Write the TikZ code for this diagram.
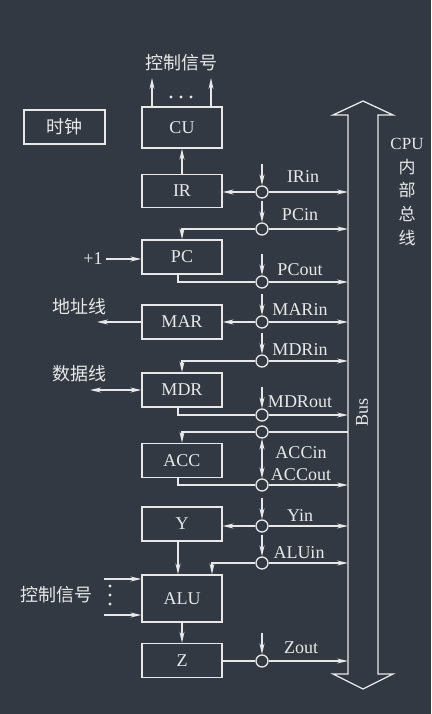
\documentclass[tikz,border=0pt]{standalone}
\usepackage{fontspec}
\setmainfont{Liberation Serif}
\newfontfamily\cjk{Noto Sans CJK SC}
\usetikzlibrary{calc,arrows.meta,positioning}

\definecolor{bgcol}{RGB}{50,57,66}
\definecolor{ink}{RGB}{232,232,232}

\tikzset{
  wire/.style={draw=ink, line width=1.3pt},
  arr/.style={wire, -{Stealth[open,length=11pt,width=5pt]}},
  arrtwo/.style={wire, {Stealth[open,length=11pt,width=5pt]}-{Stealth[open,length=11pt,width=5pt]}},
  reg/.style={draw=ink, line width=1.3pt, minimum width=80pt, minimum height=34pt,
    inner sep=0pt, text=ink, font=\fontsize{18}{18}\selectfont},
  gate/.style={circle, draw=ink, line width=1.3pt, minimum size=12pt, inner sep=0pt, fill=bgcol},
  lbl/.style={text=ink, inner sep=0pt, font=\fontsize{18}{18}\selectfont},
  zh/.style={text=ink, inner sep=0pt, font=\cjk\fontsize{18}{18}\selectfont},
}

\begin{document}
\begin{tikzpicture}[x=1pt,y=-1pt]
  \fill[bgcol] (0,0) rectangle (431,714);
  \useasboundingbox (0,0) rectangle (431,714);

  % registers
  \node[reg, minimum height=41pt] (CU) at (182,127.5) {CU};
  \node[reg, minimum height=33pt] (IR) at (182,191) {IR};
  \node[reg] (PC) at (182,257) {PC};
  \node[reg] (MAR) at (182,322) {MAR};
  \node[reg] (MDR) at (182,390) {MDR};
  \node[reg] (ACC) at (182,460.5) {ACC};
  \node[reg] (Y) at (182,524) {Y};
  \node[reg, minimum height=47pt] (ALU) at (182,598.5) {ALU};
  \node[reg] (Z) at (182,660.5) {Z};
  \node[reg, minimum width=81pt, font=\cjk\fontsize{18}{18}\selectfont] (clk) at (64.5,127) {时钟};

  % bus
  \draw[wire, line join=miter] (348,674) -- (348,115) -- (333,115) -- (363,101) -- (393,115)
    -- (378,115) -- (378,674) -- (393,674) -- (363,689) -- (333,674) -- cycle;
  \coordinate (busL) at (348,0);
  \node[lbl, rotate=90] (busTxt) at (362,412) {Bus};
  \node[lbl, align=center, font=\fontsize{17}{23.75}\selectfont] (cpuTxt) at (407,192)
    {CPU\\{\cjk 内}\\{\cjk 部}\\{\cjk 总}\\{\cjk 线}};

  % gates
  \foreach \n/\y in {IR/192, PCin/229, PCout/282, MAR/322, MDRin/361, MDRout/415,
                     ACCin/432, ACCout/485, Y/526, ALUin/563, Z/661} {
    \node[gate] (g\n) at (262,\y) {};
  }
  \foreach \n in {IR,PCin,PCout,MAR,MDRin,MDRout,Y,ALUin,Z} {
    \draw[arr] ($(g\n.north)+(0,-21)$) -- (g\n.north);
  }
  \draw[arrtwo] (gACCin.south) -- (gACCout.north);
  \foreach \n in {IR,PCin,PCout,MAR,MDRin,MDRout,ACCout,Y,ALUin,Z} {
    \draw[arr] (g\n.east) -- (g\n -| busL);
  }
  \draw[wire] (gACCin.east) -- (gACCin -| busL);

  % gate labels
  \foreach \n/\t/\x/\y in {IR/IRin/303/177, PCin/PCin/300/215, PCout/PCout/300/270,
      MAR/MARin/300/310, MDRin/MDRin/300/350, MDRout/MDRout/300/402,
      ACCin/ACCin/301/453, ACCout/ACCout/301/475, Y/Yin/300/516,
      ALUin/ALUin/299/553, Z/Zout/301/648} {
    \node[lbl] (l\n) at (\x,\y) {\t};
  }

  % register side of the gates
  \draw[arr] (gIR.west) -- (IR.east |- gIR);
  \draw[arr] (gMAR.west) -- (MAR.east);
  \draw[arr] (gY.west) -- (Y.east |- gY);
  \draw[wire] (Z.east |- gZ) -- (gZ.west);
  \draw[arr] (gPCin.west) -| (PC.north);
  \draw[arr] (gMDRin.west) -| (MDR.north);
  \draw[arr] (gACCin.west) -| (ACC.north);
  \draw[arr] (gALUin.west) -| ([xshift=30pt]ALU.north);
  \draw[wire] ([xshift=-4pt]PC.south) |- (gPCout.west);
  \draw[wire] ([xshift=-4pt]MDR.south) |- (gMDRout.west);
  \draw[wire] ([xshift=-4pt]ACC.south) |- (gACCout.west);

  % between registers
  \draw[arr] (IR.north) -- (CU.south);
  \draw[arr] ([xshift=-4pt]Y.south) -- ([xshift=-4pt]ALU.north);
  \draw[arr] (ALU.south) -- (Z.north);

  % CU outputs
  \coordinate (cuL) at (152,78);
  \coordinate (cuR) at (211,78);
  \draw[arr] (CU.north -| cuL) -- (cuL);
  \draw[arr] (CU.north -| cuR) -- (cuR);
  \foreach \x in {171,181,191}
    \fill[ink] (\x,97) circle (1.6pt);
  \node[zh] (cuSig) at (181,63) {控制信号};

  % left side
  \node[lbl] (inc) at (93,259) {+1};
  \draw[arr] ([xshift=3pt]inc.east) -- (PC.west |- inc);
  \node[zh] (addr) at (79.5,307) {地址线};
  \coordinate (addrEnd) at (97,322);
  \draw[arr] (MAR.west) -- (addrEnd);
  \node[zh] (data) at (79.5,374) {数据线};
  \coordinate (dataEnd) at (90,390);
  \draw[arrtwo] (dataEnd) -- (MDR.west |- dataEnd);
  \node[zh] (aluSig) at (56,595) {控制信号};
  \coordinate (sigA) at (104,579);
  \coordinate (sigB) at (104,615);
  \draw[arr] (sigA) -- (ALU.west |- sigA);
  \draw[arr] (sigB) -- (ALU.west |- sigB);
  \foreach \y in {586,595,604}
    \fill[ink] (110,\y) circle (1.6pt);
\end{tikzpicture}
\end{document}
